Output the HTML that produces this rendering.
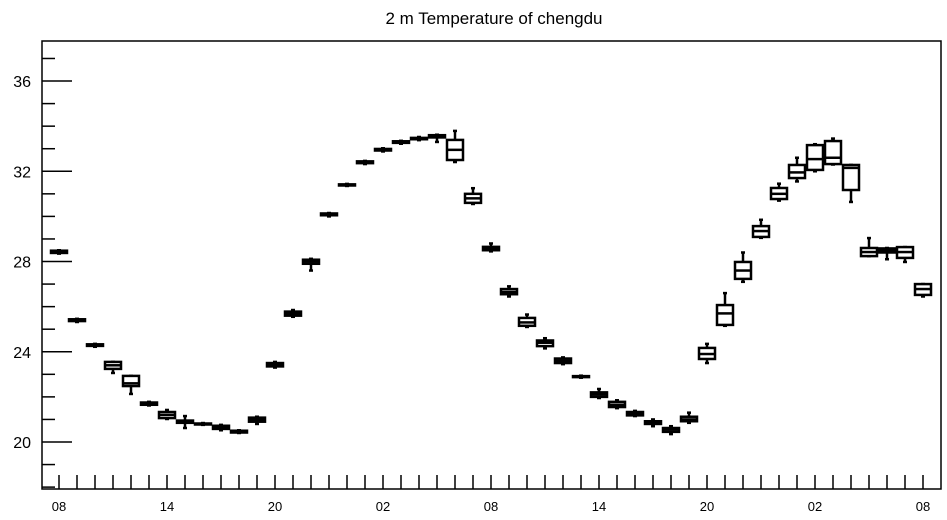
<!DOCTYPE html>
<html><head><meta charset="utf-8"><style>
body{margin:0;background:#fff;}
svg{display:block;font-family:"Liberation Sans",sans-serif;}
</style></head><body>
<svg id="c" width="947" height="520">
<text x="494" y="24" text-anchor="middle" font-size="17">2 m Temperature of chengdu</text>
<g id="axes"></g><g id="boxes"></g>
</svg>
<script>
const hourLabels=["08","14","20","02","08","14","20","02","08"];
const yTicks=[20,24,28,32,36];
// [min,q1,median,q3,max] per hour, starting 08
const mins=[28.35,25.32,24.22,23.06,22.13,21.62,21.02,20.62,20.76,20.52,20.4,20.8,23.3,25.55,27.6,30.0,31.35,32.32,32.88,33.22,33.38,33.3,32.41,30.55,28.45,26.45,25.1,24.15,23.45,22.85,21.95,21.5,21.15,20.7,20.35,20.85,23.5,25.15,27.1,29.05,30.7,31.55,32.0,32.3,30.64,28.24,28.1,27.98,26.45];
const q1s=[28.38,25.36,24.26,23.24,22.48,21.65,21.06,20.85,20.78,20.58,20.42,20.9,23.35,25.6,27.9,30.05,31.37,32.36,32.92,33.26,33.42,33.5,32.5,30.6,28.5,26.55,25.15,24.25,23.5,22.88,22.0,21.55,21.18,20.8,20.45,20.92,23.68,25.19,27.23,29.09,30.77,31.7,32.06,32.32,31.17,28.24,28.4,28.16,26.52];
const medians=[28.42,25.4,24.3,23.4,22.6,21.7,21.2,20.9,20.8,20.65,20.45,21.0,23.42,25.7,28.0,30.1,31.4,32.4,32.95,33.3,33.45,33.55,32.95,30.8,28.55,26.65,25.3,24.4,23.6,22.9,22.1,21.65,21.25,20.85,20.55,21.0,23.9,25.7,27.6,29.35,31.0,31.95,32.54,32.6,32.15,28.42,28.5,28.42,26.78];
const q3s=[28.48,25.44,24.33,23.55,22.93,21.75,21.33,20.95,20.82,20.72,20.5,21.08,23.5,25.78,28.08,30.13,31.42,32.44,32.99,33.33,33.48,33.6,33.39,31.0,28.65,26.78,25.5,24.5,23.7,22.92,22.2,21.78,21.33,20.92,20.62,21.12,24.17,26.07,27.98,29.57,31.26,32.28,33.16,33.34,32.28,28.6,28.58,28.64,27.0];
const maxs=[28.5,25.46,24.35,23.55,22.93,21.78,21.42,21.15,20.84,20.76,20.52,21.12,23.55,25.85,28.12,30.15,31.44,32.46,33.02,33.35,33.52,33.62,33.79,31.25,28.8,26.9,25.65,24.6,23.75,22.94,22.35,21.85,21.38,21.0,20.7,21.3,24.35,26.6,28.4,29.85,31.45,32.6,33.2,33.45,32.28,29.04,28.6,28.64,27.0];
const L=42,R=941,T=41,B=489;
const x=i=>59+i*18;
const y=v=>442-(v-20)*22.56;
const NS="http://www.w3.org/2000/svg";
function mk(t,a,p){const e=document.createElementNS(NS,t);for(const k in a)e.setAttribute(k,a[k]);p.appendChild(e);return e;}
const ax=document.getElementById('axes'),bx=document.getElementById('boxes');
const fr=mk('rect',{x:L,y:T,width:R-L,height:B-T,fill:'none',stroke:'#000','stroke-width':1.5},ax);


for(let v=18;v<=37;v++){const len=(v%4===0)?30:13;
 const t=mk('line',{x1:L,x2:L+len,y1:y(v),y2:y(v),stroke:'#000','stroke-width':1.5},ax);
 
 }
yTicks.forEach(v=>{const t=mk('text',{x:31,y:y(v)+6,'text-anchor':'end','font-size':16},ax);t.textContent=v;
 
 });
for(let i=0;i<medians.length;i++){
 const t=mk('line',{x1:x(i),x2:x(i),y1:B,y2:B-14,stroke:'#000','stroke-width':1.5},ax);
 
 }
hourLabels.forEach((h,k)=>{const t=mk('text',{x:x(k*6),y:511,'text-anchor':'middle','font-size':13},ax);t.textContent=h;
 
 });
for(let i=0;i<medians.length;i++){
 const g=mk('g',{stroke:'#000','stroke-width':2.5,fill:'#fff'},bx);
 
 
 const cx=x(i);
 mk('line',{x1:cx,x2:cx,y1:y(maxs[i]),y2:y(q3s[i])},g);
 mk('line',{x1:cx,x2:cx,y1:y(q1s[i]),y2:y(mins[i])},g);
 mk('line',{x1:cx-2,x2:cx+2,y1:y(maxs[i]),y2:y(maxs[i])},g);
 mk('line',{x1:cx-2,x2:cx+2,y1:y(mins[i]),y2:y(mins[i])},g);
 const top=y(q3s[i]),h=Math.max(y(q1s[i])-top,1);
 mk('rect',{x:cx-8,y:top,width:16,height:h},g);
 mk('line',{x1:cx-8,x2:cx+8,y1:y(medians[i]),y2:y(medians[i])},g);
}
</script>
</body></html>
